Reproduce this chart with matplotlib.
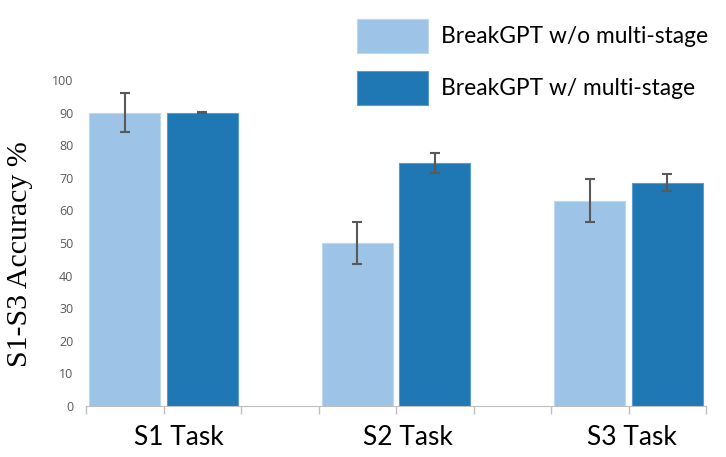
import numpy as np
import matplotlib.pyplot as plt

tasks = ['S1 Task', 'S2 Task', 'S3 Task']
series = ['BreakGPT w/o multi-stage', 'BreakGPT w/ multi-stage']
acc_wo = [90.0, 50.0, 63.0]
err_wo = [6.0, 6.3, 6.7]
acc_w = [90.0, 74.5, 68.5]
err_w = [0.2, 3.0, 2.7]
yticks = [0, 10, 20, 30, 40, 50, 60, 70, 80, 90, 100]

light = '#9DC3E6'
dark = '#1F77B4'
grey = '#595959'

fig = plt.figure(figsize=(7.26, 4.57), dpi=100)
ax = fig.add_axes([86 / 726, 51 / 457, 620 / 726, 326 / 457])

# each group uses three slots: two bars and one empty slot
group = np.arange(len(tasks)) * 3
ax.bar(group + 0.5, acc_wo, width=0.92, color=light, edgecolor='#BDD7EE', linewidth=0.8,
       label=series[0])
ax.bar(group + 1.5, acc_w, width=0.92, color=dark, edgecolor='#5B9BD5', linewidth=0.8,
       label=series[1])
ax.errorbar(group + 0.5, acc_wo, yerr=err_wo, fmt='none', ecolor=grey, elinewidth=1.5,
            capsize=3.5, capthick=1.5)
ax.errorbar(group + 1.5, acc_w, yerr=err_w, fmt='none', ecolor=grey, elinewidth=1.5,
            capsize=3.5, capthick=1.5)

ax.set_xlim(0, 8)
ax.set_ylim(0, 100)
ax.set_xticks(np.arange(9))
ax.set_xticklabels([])
ax.set_yticks(yticks)
ax.set_yticklabels([str(t) for t in yticks], fontsize=9, color=grey, family='Open Sans')
ax.tick_params(axis='y', length=0, pad=9)
ax.tick_params(axis='x', length=6, color='#BFBFBF', width=1, direction='out')

for s in ['top', 'right', 'left']:
    ax.spines[s].set_visible(False)
ax.spines['bottom'].set_color('#BFBFBF')

label_x = [1.2, 4.15, 7.05]
for x, t in zip(label_x, tasks):
    ax.text(x, -0.098, t, transform=ax.get_xaxis_transform(), ha='center', va='center',
            fontsize=19, family='Lato')

ax.set_ylabel('S1-S3 Accuracy %', family='Liberation Serif', fontsize=21.5)
ax.yaxis.set_label_coords(-0.086, 0.465)

ax.legend(loc='upper left', bbox_to_anchor=(357 / 726, 1 - 19 / 457),
          bbox_transform=fig.transFigure, frameon=False, borderpad=0, borderaxespad=0,
          prop={'family': 'Lato', 'size': 16.4}, handlelength=3.1, handleheight=1.9,
          labelspacing=0.8, handletextpad=0.6)

fig.savefig('out.png', dpi=100)
